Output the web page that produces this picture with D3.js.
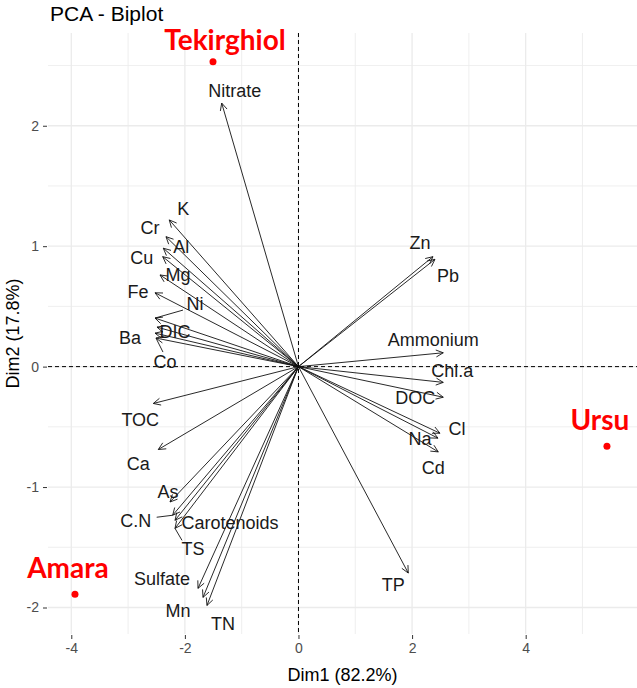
<!DOCTYPE html>
<html>
<head>
<meta charset="utf-8">
<script src="https://cdn.jsdelivr.net/npm/d3@7"></script>
<style>
  html, body { margin: 0; padding: 0; background: #fff; }
  svg { display: block; }
</style>
</head>
<body>
<svg id="chart" width="637" height="688"></svg>
<script>
// ---- data ----
const varNames = ["Nitrate","K","Cr","Al","Cu","Mg","Fe","Ni","DIC","Ba","Co","TOC","Ca","As","C.N","Carotenoids","TS","Sulfate","Mn","TN","TP","Cd","Na","Cl","DOC","Chl.a","Ammonium","Pb","Zn"];
const varDim1 = [-1.352,-2.275,-2.333,-2.380,-2.391,-2.438,-2.526,-2.526,-2.491,-2.526,-2.509,-2.556,-2.468,-2.262,-2.215,-2.174,-2.174,-1.769,-1.681,-1.611,1.933,2.461,2.456,2.491,2.549,2.549,2.549,2.403,2.368];
const varDim2 = [2.188,1.218,1.079,0.983,0.913,0.761,0.613,0.403,0.328,0.278,0.237,-0.306,-0.688,-1.124,-1.234,-1.276,-1.343,-1.841,-1.916,-1.983,-1.714,-0.708,-0.594,-0.553,-0.254,-0.131,0.115,0.891,0.913];

const indNames = ["Tekirghiol","Ursu","Amara"];
const indDim1 = [-1.505, 5.431, -3.935];
const indDim2 = [2.531, -0.661, -1.891];

const xTicks = [-4,-2,0,2,4];
const yTicks = [-2,-1,0,1,2];
const xMinor = [-3,-1,1,3,5];
const yMinor = [-1.5,-0.5,0.5,1.5,2.5];

const titleText = "PCA - Biplot";
const xTitle = "Dim1 (82.2%)";
const yTitle = "Dim2 (17.8%)";

// ---- layout (label nudges in px, relative to arrow tip) ----
const nudge = {
  "Nitrate":[13,-12], "K":[14,-11], "Cr":[-16,-9], "Al":[18,-2], "Cu":[-21,1],
  "Mg":[18,0], "Fe":[-17,-1], "Ni":[40,-14], "DIC":[18,5], "Ba":[-25,5],
  "Co":[9,24], "TOC":[-13,16], "Ca":[-20,14], "As":[-2,-10], "C.N":[-37,5],
  "Carotenoids":[55,2], "TS":[18,20], "Sulfate":[-36,-10], "Mn":[-25,13],
  "TN":[16,18], "TP":[-15,12], "Cd":[-5,16], "Na":[-18,1], "Cl":[17,-5],
  "DOC":[-28,0], "Chl.a":[9,-12], "Ammonium":[-10,-13], "Pb":[13,16], "Zn":[-13,-14]
};
const segEnd = { "Ni":[28,-8], "Co":[7,14], "C.N":[-16,2], "TS":[7,12] };
const indNudge = { "Tekirghiol":[12,-12], "Ursu":[-7,-16], "Amara":[-7,-16] };

const svg = d3.select("#chart");
const L = 48, R = 637, T = 33, B = 634;
const x = d3.scaleLinear().domain([-4.41, 5.96]).range([L, R]);
const y = d3.scaleLinear().domain([-2.22, 2.77]).range([B, T]);

const font = "'Liberation Sans', Arial, sans-serif";

// grid
const g = svg.append("g");
g.selectAll(".xmin").data(xMinor).join("line")
  .attr("x1", d => x(d)).attr("x2", d => x(d)).attr("y1", T).attr("y2", B)
  .attr("stroke", "#ebebeb").attr("stroke-width", 0.8);
g.selectAll(".ymin").data(yMinor).join("line")
  .attr("y1", d => y(d)).attr("y2", d => y(d)).attr("x1", L).attr("x2", R)
  .attr("stroke", "#ebebeb").attr("stroke-width", 0.8);
g.selectAll(".xmaj").data(xTicks).join("line")
  .attr("x1", d => x(d)).attr("x2", d => x(d)).attr("y1", T).attr("y2", B)
  .attr("stroke", "#ebebeb").attr("stroke-width", 1.3);
g.selectAll(".ymaj").data(yTicks).join("line")
  .attr("y1", d => y(d)).attr("y2", d => y(d)).attr("x1", L).attr("x2", R)
  .attr("stroke", "#ebebeb").attr("stroke-width", 1.3);

// axes
const xAxis = d3.axisBottom(x).tickValues(xTicks).tickSize(4).tickPadding(4).tickFormat(d3.format("d"));
const yAxis = d3.axisLeft(y).tickValues(yTicks).tickSize(4).tickPadding(4).tickFormat(d3.format("d"));
const gx = svg.append("g").attr("transform", `translate(0,${B+1})`).call(xAxis);
const gy = svg.append("g").attr("transform", `translate(${L-1},0)`).call(yAxis);
[gx, gy].forEach(a => {
  a.select(".domain").remove();
  a.selectAll(".tick line").attr("stroke", "#333").attr("stroke-width", 1);
  a.selectAll(".tick text").attr("fill", "#4d4d4d").style("font-family", font).style("font-size", "14px");
});
gx.selectAll(".tick text").text(d => d < 0 ? "-" + Math.abs(d) : d);
gy.selectAll(".tick text").text(d => d < 0 ? "-" + Math.abs(d) : d);

// dashed zero lines
svg.append("line").attr("x1", x(0)).attr("x2", x(0)).attr("y1", T).attr("y2", B)
  .attr("stroke", "#000").attr("stroke-width", 1).attr("stroke-dasharray", "4,3");
svg.append("line").attr("y1", y(0)).attr("y2", y(0)).attr("x1", L).attr("x2", R)
  .attr("stroke", "#000").attr("stroke-width", 1).attr("stroke-dasharray", "4,3");

// arrows
const vars = varNames.map((n, i) => ({ name: n, d1: varDim1[i], d2: varDim2[i] }));
const ox = x(0), oy = y(0);
const ag = svg.append("g").attr("stroke", "#111").attr("stroke-width", 0.9).attr("fill", "none");
vars.forEach(v => {
  const tx = x(v.d1), ty = y(v.d2);
  ag.append("line").attr("x1", ox).attr("y1", oy).attr("x2", tx).attr("y2", ty);
  const ang = Math.atan2(ty - oy, tx - ox);
  const len = 8, spread = Math.PI / 7;
  const p1 = [tx - len * Math.cos(ang - spread), ty - len * Math.sin(ang - spread)];
  const p2 = [tx - len * Math.cos(ang + spread), ty - len * Math.sin(ang + spread)];
  ag.append("path").attr("d", `M${p1[0]},${p1[1]}L${tx},${ty}L${p2[0]},${p2[1]}`);
  if (segEnd[v.name]) {
    const s = segEnd[v.name];
    ag.append("line").attr("x1", tx).attr("y1", ty).attr("x2", tx + s[0]).attr("y2", ty + s[1]);
  }
});

// variable labels
svg.append("g").selectAll("text").data(vars).join("text")
  .attr("x", d => x(d.d1) + nudge[d.name][0])
  .attr("y", d => y(d.d2) + nudge[d.name][1])
  .attr("dy", "0.35em").attr("text-anchor", "middle")
  .style("font-family", font).style("font-size", "18px").attr("fill", "#1a1a1a")
  .text(d => d.name);

// individuals
const inds = indNames.map((n, i) => ({ name: n, d1: indDim1[i], d2: indDim2[i] }));
svg.append("g").selectAll("circle").data(inds).join("circle")
  .attr("cx", d => x(d.d1)).attr("cy", d => y(d.d2)).attr("r", 3.5).attr("fill", "#ff0000");
svg.append("g").selectAll("text").data(inds).join("text")
  .attr("x", d => x(d.d1) + indNudge[d.name][0])
  .attr("y", d => y(d.d2) + indNudge[d.name][1])
  .attr("text-anchor", "middle")
  .style("font-family", "Lato, 'Open Sans', sans-serif").style("font-weight", "bold").style("font-size", "28px")
  .attr("fill", "#ff0000")
  .text(d => d.name);

// titles
svg.append("text").attr("x", 50).attr("y", 21).text(titleText)
  .style("font-family", font).style("font-size", "21px").attr("fill", "#000");
svg.append("text").attr("x", (L + R) / 2).attr("y", 681).attr("text-anchor", "middle").text(xTitle)
  .style("font-family", font).style("font-size", "18px").attr("fill", "#000");
svg.append("text").attr("transform", `translate(19,${(T + B) / 2}) rotate(-90)`).attr("text-anchor", "middle").text(yTitle)
  .style("font-family", font).style("font-size", "18px").attr("fill", "#000");
</script>
</body>
</html>
